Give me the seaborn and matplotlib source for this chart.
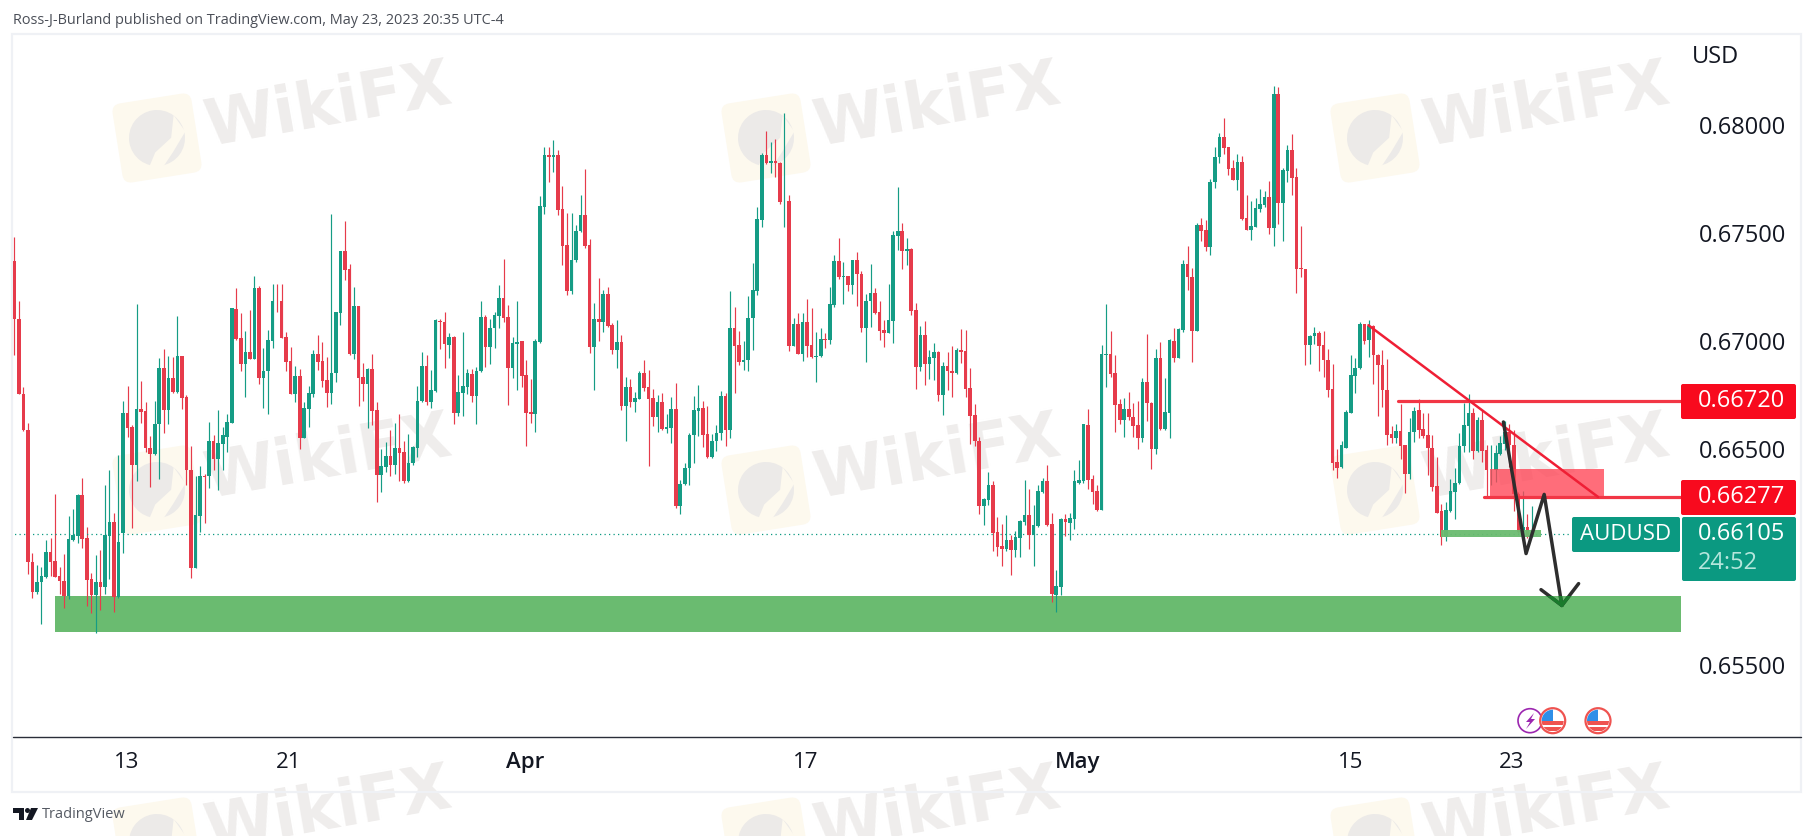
import numpy as np
import pandas as pd
import seaborn as sns
import matplotlib.pyplot as plt
from matplotlib.patches import Rectangle, FancyBboxPatch, Circle, Polygon
from matplotlib.lines import Line2D
from matplotlib.transforms import Affine2D

# %% candle data, AUDUSD in 1e-5 price units
highs = [
    67482, 67186, 66785, 66620, 66019, 65962, 65955, 66078, 66089, 66292,
    65955, 66014, 66190, 66223, 66294, 66367, 66137, 65928, 66010, 66031,
    66333, 66402, 66202, 66472, 66724, 66792, 66611, 67172, 66815, 66716,
    66559, 66723, 66921, 66963, 66930, 66925, 67116, 66930, 66751, 66514,
    66376, 66423, 66385, 66625, 66564, 66681, 66603, 66660, 67155, 67247,
    67130, 67047, 67143, 67299, 67256, 66968, 67050, 67263, 67263, 67263,
    67043, 66972, 66886, 66869, 66716, 66792, 66958, 67028, 66995, 66925,
    67589, 67134, 67418, 67555, 67355, 67251, 67162, 66899, 66873, 66942,
    66716, 66502, 66533, 66589, 66620, 66664, 66536, 66571, 66515, 66794,
    66949, 66934, 66864, 67103, 67103, 67134, 67036, 67021, 66841,
    67042, 66869, 66869, 66880, 67186, 67120, 67103, 67134, 67259, 67378,
    67165, 67019, 67186, 66998, 66913, 66824, 67010, 67670, 67899, 67897,
    67930, 67883, 67717, 67594, 67594, 67535, 67674, 67796, 67470, 67176,
    67292, 67235, 67252, 67082, 67099, 67026, 66834, 66824, 66765, 66860,
    66914, 66864, 66780, 66751, 66761, 66664, 66740, 66806, 66355, 66434,
    66573, 66744, 66796, 66723, 66698, 66568, 66611, 66768, 66759, 67230,
    67158, 67047, 66998, 67209, 67360, 67622, 67869, 67970, 67921, 67935,
    67827, 68054, 67674, 67106, 67130, 67130, 67193, 67151, 67042, 67059,
    67036, 67251, 67400, 67475, 67366, 67299, 67374, 67413, 67325, 67218,
    67355, 67245, 67186, 67099, 67265, 67508, 67712, 67547, 67477, 67430,
    67174, 67069, 67094, 66960, 66991, 66956, 66902, 66949, 66977, 66968,
    67055, 67052, 66873, 66709, 66554, 66275, 66394, 66350, 66185, 66155,
    66195, 66103, 66120, 66171, 66357, 66315, 66240, 66333, 66367, 66425,
    66202, 65941, 66183, 66197, 66202, 66402, 66449, 66616, 66684, 66378,
    66333, 66982, 67172, 67047, 66937, 66733, 66737, 66765, 66712, 66724,
    66829, 67033, 66716, 66963, 66995, 66829, 67008, 67062, 67061, 67374,
    67440, 67338, 67547, 67569, 67561, 67749, 67900, 67961, 68033, 67899,
    67839, 67866, 67857, 67674, 67648, 67662, 67702, 67695, 67740, 68179,
    68176, 67799, 67906, 67958, 67799, 67533, 67334, 67029, 67064, 67047,
    67047, 66963, 66893, 66502, 66536, 66681, 66934, 66921, 67087, 67078,
    67099, 67073, 66942, 66960, 66918, 66606, 66615, 66708, 66518, 66642,
    66696, 66731, 66665, 66669, 66564, 66464, 66245, 66256, 66359, 66413,
    66572, 66714, 66753, 66688, 66649, 66680, 66518, 66518, 66518, 66560,
    66631, 66618, 66588, 66302, 66305, 66197, 66236,
]
body_tops = [
    67369, 67104, 66754, 66590, 65975, 65883, 65911, 66022, 66022, 65981,
    65911, 65887, 66083, 66101, 66289, 66285, 66089, 65897, 65883, 65883,
    66103, 66162, 66162, 66068, 66667, 66667, 66603, 66684, 66684, 66676,
    66507, 66616, 66873, 66873, 66829, 66829, 66930, 66930, 66742, 66402,
    66193, 66374, 66374, 66535, 66535, 66528, 66563, 66623, 67151, 67148,
    67012, 66949, 66949, 67245, 67245, 66860, 67003, 67186, 67184, 67184,
    67017, 66907, 66838, 66838, 66690, 66759, 66939, 66939, 66907, 66820,
    66852, 67132, 67418, 67416, 67334, 67162, 67162, 66834, 66869, 66869,
    66681, 66421, 66468, 66468, 66503, 66503, 66486, 66434, 66510, 66724,
    66886, 66886, 66772, 67096, 67092, 67087, 67017, 67017, 66765,
    66791, 66850, 66848, 66859, 67111, 67111, 67062, 67120, 67198, 67198,
    67111, 66991, 66995, 66998, 66841, 66670, 66998, 67625, 67862, 67862,
    67862, 67862, 67611, 67444, 67374, 67508, 67583, 67583, 67444, 67103,
    67103, 67217, 67217, 67076, 66995, 66995, 66787, 66787, 66737, 66852,
    66852, 66785, 66737, 66716, 66716, 66603, 66684, 66684, 66336, 66413,
    66563, 66679, 66688, 66690, 66569, 66535, 66573, 66745, 66745, 67061,
    67061, 66982, 66914, 67106, 67235, 67564, 67862, 67862, 67834, 67834,
    67824, 67648, 67646, 67078, 67078, 67089, 67089, 66981, 66932, 67008,
    67008, 67172, 67371, 67371, 67299, 67299, 67374, 67374, 67308, 67186,
    67224, 67224, 67134, 67050, 67099, 67491, 67508, 67508, 67425, 67427,
    67144, 67026, 67028, 66925, 66949, 66949, 66886, 66886, 66859, 66960,
    66958, 66956, 66782, 66658, 66538, 66268, 66333, 66333, 66115, 66050,
    66078, 66078, 66092, 66167, 66193, 66193, 66148, 66306, 66353, 66352,
    66153, 65866, 66177, 66176, 66181, 66350, 66355, 66615, 66613, 66362,
    66306, 66939, 66942, 66942, 66852, 66709, 66684, 66684, 66646, 66611,
    66810, 66810, 66712, 66920, 66920, 66670, 67003, 67000, 67054, 67357,
    67357, 67294, 67535, 67535, 67514, 67737, 67852, 67944, 67944, 67897,
    67799, 67827, 67827, 67569, 67531, 67615, 67632, 67667, 67667, 68144,
    68144, 67792, 67885, 67885, 67759, 67336, 67334, 67024, 67036, 67036,
    66982, 66914, 66777, 66441, 66519, 66672, 66841, 66873, 67078, 67078,
    67068, 67069, 66933, 66887, 66772, 66569, 66583, 66583, 66518, 66577,
    66677, 66680, 66592, 66564, 66506, 66328, 66213, 66217, 66305, 66344,
    66513, 66611, 66668, 66668, 66634, 66634, 66495, 66405, 66480, 66526,
    66580, 66580, 66518, 66294, 66140, 66140, 66105,
]
body_bottoms = [
    67104, 66754, 66589, 65975, 65840, 65840, 65883, 65909, 65979, 65909,
    65887, 65819, 65819, 66078, 66097, 66085, 65894, 65824, 65824, 65862,
    65862, 66099, 65813, 65813, 66113, 66597, 66428, 66428, 66672, 66507,
    66479, 66475, 66615, 66681, 66681, 66765, 66765, 66738, 66402, 65949,
    65949, 66190, 66371, 66373, 66454, 66454, 66524, 66557, 66620, 67008,
    66893, 66893, 66916, 66916, 66829, 66829, 66859, 67001, 67183, 67015,
    66904, 66756, 66754, 66550, 66550, 66686, 66756, 66904, 66817, 66759,
    66759, 66850, 67129, 67329, 66942, 66942, 66829, 66803, 66799, 66676,
    66380, 66380, 66416, 66428, 66428, 66482, 66350, 66350, 66434, 66507,
    66721, 66719, 66719, 66768, 67089, 66984, 66982, 66669, 66669,
    66761, 66789, 66747, 66747, 66859, 66974, 66974, 67062, 67116, 67108,
    66873, 66873, 66988, 66838, 66669, 66664, 66664, 66995, 67622, 67853,
    67853, 67608, 67442, 67233, 67233, 67373, 67507, 67442, 66972, 66972,
    67090, 67090, 67071, 66958, 66958, 66698, 66698, 66719, 66719, 66733,
    66782, 66733, 66650, 66650, 66594, 66594, 66597, 66237, 66237, 66336,
    66411, 66563, 66677, 66566, 66463, 66463, 66535, 66573, 66590, 66590,
    66977, 66902, 66904, 66914, 67106, 67233, 67561, 67822, 67822, 67822,
    67643, 67646, 66977, 66977, 66942, 66942, 66977, 66925, 66928, 66932,
    67003, 67003, 67165, 67294, 67294, 67261, 67261, 67308, 67061, 67061,
    67183, 67130, 67047, 67038, 67038, 67094, 67487, 67418, 67418, 67141,
    66881, 66881, 66893, 66893, 66921, 66752, 66752, 66859, 66853, 66852,
    66951, 66780, 66655, 66536, 66237, 66237, 66263, 66111, 66045, 66038,
    66036, 66033, 66033, 66089, 66162, 66103, 66103, 66144, 66301, 66148,
    65827, 65824, 65862, 66160, 66158, 66176, 66341, 66353, 66355, 66303,
    66216, 66219, 66935, 66846, 66705, 66632, 66632, 66646, 66606, 66550,
    66550, 66712, 66502, 66502, 66594, 66594, 66667, 66921, 66921, 67050,
    67294, 67047, 67047, 67508, 67435, 67435, 67735, 67852, 67895, 67796,
    67747, 67747, 67564, 67514, 67514, 67528, 67611, 67629, 67521, 67521,
    67639, 67639, 67787, 67756, 67334, 67331, 66982, 66982, 67021, 66977,
    66914, 66773, 66437, 66411, 66416, 66507, 66669, 66838, 66873, 66998,
    67003, 66933, 66887, 66772, 66564, 66552, 66552, 66515, 66385, 66385,
    66577, 66588, 66561, 66506, 66325, 66206, 66094, 66091, 66214, 66302,
    66341, 66513, 66608, 66492, 66492, 66492, 66405, 66402, 66402, 66476,
    66523, 66518, 66294, 66114, 66117, 66094, 66091,
]
lows = [
    66937, 66754, 66585, 65923, 65810, 65831, 65688, 65902, 65914, 65906,
    65827, 65766, 65806, 66075, 66066, 66042, 65775, 65740, 65650, 65754,
    65831, 65897, 65747, 65810, 66019, 66554, 66136, 66350, 66620, 66486,
    66324, 66472, 66362, 66576, 66616, 66759, 66759, 66686, 66333, 65904,
    65949, 66118, 66158, 66319, 66402, 66310, 66402, 66486, 66620, 67003,
    66859, 66742, 66916, 66916, 66803, 66690, 66664, 66968, 67134, 67015,
    66860, 66756, 66719, 66502, 66550, 66603, 66742, 66864, 66789, 66695,
    66707, 66810, 67076, 67282, 66934, 66916, 66698, 66724, 66597, 66611,
    66254, 66303, 66394, 66376, 66385, 66353, 66341, 66346, 66428, 66463,
    66716, 66705, 66690, 66765, 66963, 66876, 66921, 66618, 66655,
    66655, 66754, 66719, 66618, 66855, 66881, 66893, 66968, 67061, 67090,
    66705, 66829, 66775, 66785, 66515, 66622, 66580, 66991, 67590, 67738,
    67784, 67585, 67352, 67211, 67219, 67364, 67503, 67430, 66946, 66775,
    67001, 67043, 67064, 66942, 66876, 66681, 66535, 66695, 66672, 66733,
    66768, 66420, 66606, 66580, 66590, 66576, 66529, 66225, 66200, 66333,
    66333, 66437, 66559, 66510, 66458, 66458, 66489, 66542, 66515, 66549,
    66759, 66890, 66866, 66859, 66960, 67212, 67528, 67820, 67778, 67761,
    67632, 67526, 66956, 66977, 66939, 66907, 66925, 66921, 66812, 66928,
    66968, 66986, 67158, 67287, 67172, 67231, 67217, 67160, 67043, 66904,
    67064, 67125, 67003, 66974, 67038, 66991, 67421, 67334, 67352, 67120,
    66780, 66859, 66798, 66824, 66820, 66723, 66658, 66775, 66742, 66845,
    66899, 66742, 66524, 66515, 66197, 66150, 66240, 66028, 66005, 65958,
    66028, 65918, 66000, 66002, 66150, 66036, 65958, 66141, 66298, 66144,
    65793, 65747, 65824, 66097, 66080, 66132, 66336, 66341, 66315, 66245,
    66211, 66219, 66785, 66834, 66580, 66615, 66555, 66632, 66555, 66498,
    66531, 66629, 66409, 66479, 66590, 66589, 66549, 66904, 66921, 67042,
    67238, 66904, 67047, 67461, 67416, 67399, 67709, 67825, 67865, 67768,
    67744, 67700, 67561, 67512, 67468, 67526, 67599, 67618, 67496, 67442,
    67540, 67461, 67738, 67674, 67224, 67298, 66890, 66893, 66986, 66859,
    66834, 66740, 66402, 66367, 66413, 66503, 66667, 66759, 66869, 66986,
    66925, 66803, 66655, 66695, 66518, 66526, 66529, 66452, 66297, 66359,
    66534, 66549, 66549, 66379, 66305, 66206, 66058, 66075, 66210, 66174,
    66338, 66487, 66487, 66452, 66487, 66438, 66279, 66333, 66348, 66472,
    66495, 66418, 66214, 66109, 66078, 66086, 66094,
]
# u = up candle, d = down candle
direction = (
    "ddddd uuu dddd uuu ddd u d uu d uu dd u ddd uu d u d u ddd uu d u d uuuu dd u d u d "
    "uuu dddd u d uuu ddd uuu dd u dd u dd uu d u dd uuuu d uu dd u d u "
    "uu d uu d uuu dd uu ddd uuu d u ddd uuu dd u d u dd u d u d uu ddd u d uu d uuuuu dd "
    "uuu d u dd uuuuu d u dd u d u d u dd uu d uu d u d u dd uu ddd uuu d u dd u "
    "d uu d u dd u ddddd uu ddd u d uuu d uuu dd uu d uuuu ddd uu ddd u ddd u dd u d uu d "
    "uu dd u dd uuu ddd u dd uuuu d u d uu dddd uu ddddd uuuuu d u dd "
    "dd d u dd uu dddddd uuuuuu d u dd uuuu ddd u d u"
).replace(" ", "")

# price scale and drawn levels
y_ticks = [0.68, 0.675, 0.67, 0.665, 0.655]
time_ticks = [24.9, 60.6, 112.8, 174.6, 234.8, 295.0, 330.6]
time_labels = ["13", "21", "Apr", "17", "May", "15", "23"]
last_price = 0.66105
resistance = 0.66720
support = 0.66277
zone_low, zone_high = 0.65653, 0.65821
trend_x, trend_y = [298.9, 349.6], [0.67073, 0.66278]
supply_x, supply_y = [325.7, 351.0], [0.66277, 0.66406]
demand_x, demand_y = [314.9, 337.0], [0.66091, 0.66125]
path_x = [328.7, 333.7, 337.7, 341.6]
path_y = [0.66625, 0.66016, 0.66290, 0.65776]
head_x = [337.0, 341.6, 345.3]
head_y = [0.65849, 0.65776, 0.65877]

RED = "#E63B4B"
GREEN = "#159C85"
LEVEL = "#F23645"
ZONE = "#6ABB70"
TEAL = "#0B9981"
INK = "#131722"
W, H = 1814, 836

# %% figure set-up
sns.set_theme(style="white")
plt.rcParams["font.family"] = ["Open Sans", "DejaVu Sans"]
fig = plt.figure(figsize=(W / 100, H / 100), dpi=100, facecolor="white")
px = Affine2D().scale(1, -1).translate(0, H)  # figure pixels, y down
ax = fig.add_axes([13 / W, 1 - 737 / H, (1681 - 13) / W, (737 - 34) / H], facecolor="none")

# %% watermark
for col in range(3):
    for row in range(3):
        dx, dy = 609 * col, 352 * row
        cx, cy = 157 + dx, 138 + dy
        rot = Affine2D().rotate_deg_around(cx, cy, -9) + px
        fig.add_artist(FancyBboxPatch((cx - 33, cy - 33), 66, 66, boxstyle="round,pad=7,rounding_size=9",
                                      fc="#FDF9EE", ec="none", transform=rot, zorder=-3))
        fig.add_artist(Circle((cx, cy), 28, fc="#ECEAE8", ec="none", transform=rot, zorder=-2))
        fig.add_artist(Polygon([(cx - 4, cy + 14), (cx + 14, cy + 2), (cx + 20, cy - 20), (cx + 29, cy - 2),
                                (cx + 14, cy + 16), (cx + 2, cy + 29), (cx - 12, cy + 27)],
                               fc="#FDF9EE", ec="none", transform=rot, zorder=-2))
        fig.text(328 + dx, 107 + dy, "WikiFX", transform=px, fontsize=46, fontweight="bold",
                 family="DejaVu Sans", color="#EFEDEC", rotation=10, rotation_mode="anchor",
                 ha="center", va="center", zorder=-1)

# %% frame around the chart
fig.add_artist(Rectangle((12, 34), 1789, 758, fc="none", ec="#EFF1F5", lw=1.6, transform=px, zorder=-0.5))
fig.add_artist(Line2D([13, 1801], [737, 737], color="#2A2E39", lw=1.0, transform=px, zorder=1))

# %% candles
candles = pd.DataFrame({
    "high": np.array(highs) / 1e5,
    "top": np.array(body_tops) / 1e5,
    "bottom": np.array(body_bottoms) / 1e5,
    "low": np.array(lows) / 1e5,
    "dir": list(direction),
})
candles["x"] = candles.index
candles["colour"] = candles["dir"].map({"u": GREEN, "d": RED})

zone = Rectangle((9, zone_low), 400, zone_high - zone_low, fc=ZONE, ec="none", zorder=1)
ax.add_patch(zone)
ax.vlines(candles["x"], candles["low"], candles["high"], colors=candles["colour"], lw=0.85, zorder=2)
ax.bar(candles["x"], candles["top"] - candles["bottom"], bottom=candles["bottom"], width=0.8,
       color=candles["colour"], linewidth=0, zorder=3)

# %% drawings on the chart
ax.add_patch(Rectangle((demand_x[0], demand_y[0]), demand_x[1] - demand_x[0], demand_y[1] - demand_y[0],
                       fc=ZONE, ec="none", alpha=0.95, zorder=4))
ax.add_patch(Rectangle((supply_x[0], supply_y[0]), supply_x[1] - supply_x[0], supply_y[1] - supply_y[0],
                       fc="#FF4455", ec="none", alpha=0.78, zorder=4))
sns.lineplot(x=[-1, 343.9], y=[last_price, last_price], ax=ax, color=TEAL, lw=0.9,
             linestyle=(0, (1, 2.6)), estimator=None, zorder=2)
sns.lineplot(x=[305.5, 400], y=[resistance, resistance], ax=ax, color=LEVEL, lw=2.3, estimator=None, zorder=5)
sns.lineplot(x=[324.4, 400], y=[support, support], ax=ax, color=LEVEL, lw=2.3, estimator=None, zorder=5)
sns.lineplot(x=trend_x, y=trend_y, ax=ax, color="#EF1F35", lw=1.8, estimator=None, zorder=5)
sns.lineplot(x=path_x, y=path_y, ax=ax, color="#2E2E2E", lw=2.5, estimator=None, sort=False, zorder=6)
sns.lineplot(x=head_x, y=head_y, ax=ax, color="#2E2E2E", lw=2.5, estimator=None, sort=False, zorder=6)
# the arrow tip shows dark green where it crosses the zone
sns.lineplot(x=path_x, y=path_y, ax=ax, color="#1A7A2C", lw=2.5, estimator=None, sort=False, zorder=7)
ax.lines[-1].set_clip_path(zone)
sns.lineplot(x=head_x, y=head_y, ax=ax, color="#1A7A2C", lw=2.5, estimator=None, sort=False, zorder=7)
ax.lines[-1].set_clip_path(zone)

# %% axes
ax.set_xlim(-0.287, 367.9)
ax.set_ylim(0.65167, 0.68421)
ax.set_xlabel("")
ax.set_ylabel("")
sns.despine(ax=ax, left=True, bottom=True, right=True, top=True)
ax.yaxis.tick_right()
ax.set_yticks(y_ticks)
ax.set_yticklabels(["%.5f" % v for v in y_ticks])
ax.set_xticks(time_ticks)
ax.set_xticklabels(time_labels)
ax.tick_params(axis="y", length=0, pad=13, labelsize=17, labelcolor=INK)
ax.tick_params(axis="x", length=0, pad=11, labelsize=16, labelcolor=INK)
for label_ in ax.get_xticklabels():
    if label_.get_text() in ("Apr", "May"):
        label_.set_fontweight("semibold")

# %% price labels
def price_box(x0, y0, x1, y1, colour):
    fig.add_artist(FancyBboxPatch((x0 + 2, y0 + 2), x1 - x0 - 4, y1 - y0 - 4,
                                  boxstyle="round,pad=2,rounding_size=2", fc=colour, ec="none",
                                  transform=px, zorder=7))

def label(x, y, text, colour="white", ha="left", size=17):
    fig.text(x, y, text, transform=px, color=colour, fontsize=size, ha=ha, va="center", zorder=8)

price_box(1681, 384, 1796, 419, "#F80A1E")
price_box(1681, 480, 1796, 515, "#F80A1E")
price_box(1572, 517, 1680, 552, TEAL)
price_box(1682, 517, 1796, 581, TEAL)
label(1698, 401, "%.5f" % resistance)
label(1698, 497, "%.5f" % support)
label(1698, 534, "%.5f" % last_price)
label(1698, 563, "24:52", colour="#B5E6DC")
label(1626, 534, "AUDUSD", ha="center", size=16)
label(1715, 57, "USD", colour=INK, ha="center")

fig.text(13, 20, "Ross-J-Burland published on TradingView.com, May 23, 2023 20:35 UTC-4", transform=px,
         color="#4A4E57", fontsize=10.45, va="center")
fig.text(42, 815, "TradingView", transform=px, color="#555A63", fontsize=10.5, va="center")

# %% TradingView mark
for pts in ([(13, 808), (24, 808), (24, 820), (19, 820), (19, 813), (13, 813)],
            [(31, 808), (38, 808), (32, 820), (26, 820)]):
    fig.add_artist(Polygon(pts, fc="#131722", ec="none", transform=px, zorder=3))
fig.add_artist(Circle((27.5, 810.5), 2.5, fc="#131722", ec="none", transform=px, zorder=3))

# %% event icons above the time axis
fig.add_artist(Circle((1530, 720.7), 12, fc="white", ec="#9C27B0", lw=1.2, transform=px, zorder=5))
fig.add_artist(Polygon([(1534, 713), (1526, 722), (1530, 722), (1526, 729), (1535, 719), (1531, 719)],
                       fc="#9C27B0", ec="none", transform=px, zorder=6))
for fx in (1552.7, 1598):
    disc = Circle((fx, 720.7), 12.5, fc="white", ec="#EF5350", lw=1.6, transform=px, zorder=6)
    fig.add_artist(disc)
    clip = Circle((fx, 720.7), 11, transform=px)
    stripes = [Rectangle((fx - 12, 721), 24, 3.5, fc="#EF5350", ec="none", transform=px, zorder=6.5),
               Rectangle((fx - 12, 727), 24, 4, fc="#EF5350", ec="none", transform=px, zorder=6.5),
               Rectangle((fx - 12, 709), 12, 12, fc="#2F8FE8", ec="none", transform=px, zorder=6.6)]
    for piece in stripes:
        piece.set_clip_path(clip)
        fig.add_artist(piece)

fig.savefig("out.png", dpi=100, facecolor="white")
